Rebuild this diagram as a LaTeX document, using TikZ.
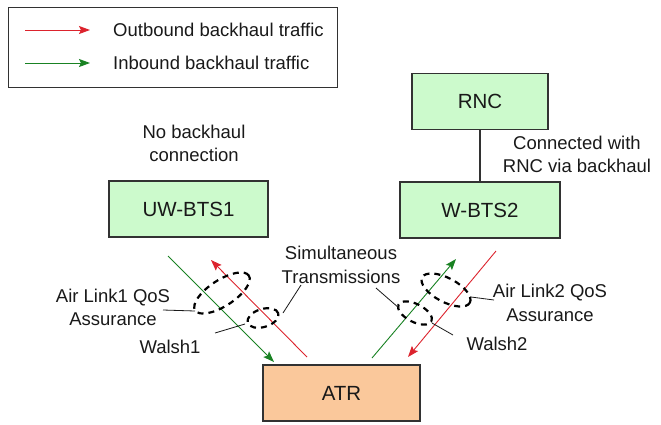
\documentclass[tikz,border=0pt]{standalone}
\usepackage{fontspec}
\setmainfont{Liberation Sans}
\usetikzlibrary{shapes.geometric,arrows.meta}

\definecolor{boxgreen}{RGB}{204,250,204}
\definecolor{boxorange}{RGB}{250,200,155}
\definecolor{outred}{RGB}{220,35,45}
\definecolor{ingreen}{RGB}{25,130,35}
\definecolor{edge}{RGB}{50,50,50}
\definecolor{ink}{RGB}{25,25,25}

\begin{document}
\begin{tikzpicture}[x=1pt,y=-1pt,
  unitbox/.style={draw=edge, line width=1.4pt, fill=boxgreen, text=ink,
    font=\fontsize{20.5}{24}\selectfont, inner sep=0pt,
    minimum width=#1, minimum height=56pt},
  label/.style={text=ink, align=center, inner sep=0pt,
    font=\fontsize{18.5}{23.5}\selectfont},
  outflow/.style={draw=outred, line width=0.9pt,
    -{Stealth[length=11pt,width=8pt,inset=2pt]}},
  inflow/.style={draw=ingreen, line width=0.9pt,
    -{Stealth[length=11pt,width=8pt,inset=2pt]}},
  qos/.style={ellipse, draw=black, line width=2.2pt, dash pattern=on 6pt off 5pt,
    inner sep=0pt},
  leader/.style={draw=ink, line width=0.8pt}
]
\useasboundingbox (0,0) rectangle (661,424);

% legend
\node[draw=edge, line width=1pt, minimum width=329pt, minimum height=80pt,
  inner sep=0pt] (legend) at (172.5,47) {};
\coordinate (ra) at (25,30);  \coordinate (rb) at (90,30);
\coordinate (ga) at (25,63);  \coordinate (gb) at (90,63);
\draw[outflow] (ra) -- (rb);
\draw[inflow] (ga) -- (gb);
\node[label, anchor=west] (outtxt) at (113,30) {Outbound backhaul traffic};
\node[label, anchor=west] (intxt) at (113,63) {Inbound backhaul traffic};

% network elements
\node[unitbox=136pt] (rnc) at (480,101.5) {RNC};
\node[unitbox=160pt] (wbts) at (480,210) {W-BTS2};
\node[unitbox=159pt] (uwbts) at (188.5,209) {UW-BTS1};
\node[unitbox=157pt, fill=boxorange] (atr) at (341.5,393) {ATR};
\draw[draw=edge, line width=1.2pt] (rnc) -- (wbts);

% annotations
\node[label] (nobh) at (194,143.5) {No backhaul\\connection};
\node[label] (conn) at (577,154.5) {Connected with\\RNC via backhaul};
\node[label] (simul) at (341,265) {Simultaneous\\Transmissions};
\node[label] (ql1) at (113,307.5) {Air Link1 QoS\\Assurance};
\node[label] (ql2) at (550,303) {Air Link2 QoS\\Assurance};
\node[label] (walsh1) at (170,347) {Walsh1};
\node[label] (walsh2) at (497,344) {Walsh2};

% air link traffic, left
\coordinate (l1a) at (168,256); \coordinate (l1b) at (274,362);
\coordinate (l2a) at (307,357); \coordinate (l2b) at (211,260);
\draw[inflow] (l1a) -- (l1b);
\draw[outflow] (l2a) -- (l2b);
% air link traffic, right
\coordinate (r1a) at (372,358); \coordinate (r1b) at (456,259);
\coordinate (r2a) at (496,251); \coordinate (r2b) at (408,357);
\draw[inflow] (r1a) -- (r1b);
\draw[outflow] (r2a) -- (r2b);

% QoS and Walsh groupings
\node[qos, minimum width=64pt, minimum height=26pt, rotate=33] (e1) at (222,293) {};
\node[qos, minimum width=32pt, minimum height=18pt, rotate=17] (e2) at (263,318) {};
\node[qos, minimum width=54pt, minimum height=24pt, rotate=-28] (e3) at (446,290) {};
\node[qos, minimum width=37pt, minimum height=18pt, rotate=-27] (e4) at (415,313) {};

% leader lines
\coordinate (q1s) at (163,310); \coordinate (q1e) at (195,311);
\draw[leader] (q1s) -- (q1e);
\coordinate (w1s) at (215,333); \coordinate (w1e) at (245,324);
\draw[leader] (w1s) -- (w1e);
\coordinate (s1s) at (301,285); \coordinate (s1e) at (283,313);
\draw[leader] (s1s) -- (s1e);
\coordinate (s2s) at (376,288); \coordinate (s2e) at (399,308);
\draw[leader] (s2s) -- (s2e);
\coordinate (q2s) at (471,297); \coordinate (q2e) at (494,300);
\draw[leader] (q2s) -- (q2e);
\coordinate (w2s) at (432,323); \coordinate (w2e) at (453,335);
\draw[leader] (w2s) -- (w2e);
\end{tikzpicture}
\end{document}
